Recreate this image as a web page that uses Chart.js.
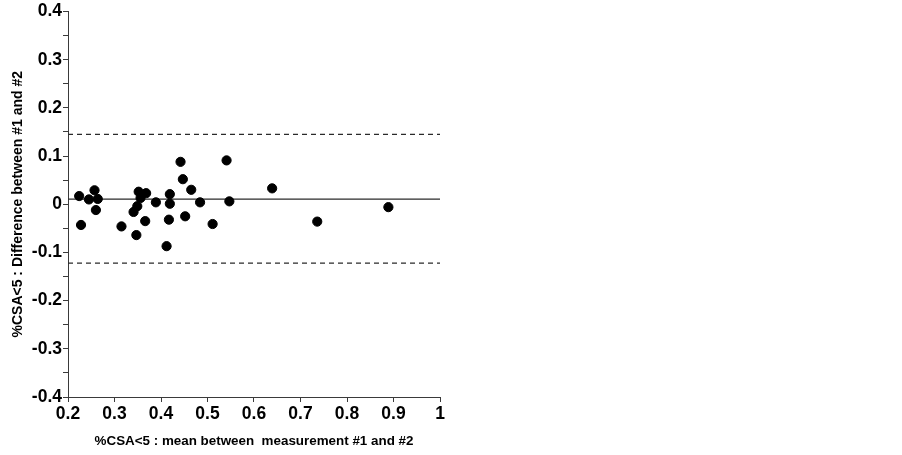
<!DOCTYPE html>
<html>
<head>
<meta charset="utf-8">
<script src="https://cdn.jsdelivr.net/npm/chart.js@4"></script>
<style>
  html, body { margin: 0; padding: 0; background: #fff; }
  #wrap { width: 902px; height: 455px; position: relative; }
</style>
</head>
<body>
<div id="wrap"><canvas id="bland-altman"></canvas></div>
<script>
// mean of measurements #1 and #2 (x) and their difference (y)
const meanValues = [0.224, 0.228, 0.245, 0.257, 0.264, 0.260, 0.315, 0.341, 0.349, 0.352,
                    0.356, 0.368, 0.366, 0.347, 0.389, 0.412, 0.419, 0.419, 0.417, 0.442,
                    0.447, 0.465, 0.452, 0.484, 0.511, 0.541, 0.547, 0.639, 0.736, 0.889];
const diffValues = [0.017, -0.043, 0.010, 0.029, 0.011, -0.012, -0.046, -0.016, -0.004, 0.026,
                    0.013, 0.023, -0.035, -0.064, 0.004, -0.087, 0.021, 0.001, -0.032, 0.088,
                    0.052, 0.030, -0.025, 0.004, -0.041, 0.091, 0.006, 0.033, -0.036, -0.006];

const biasLine = 0.0105;
const upperLimit = 0.145;
const lowerLimit = -0.122;
const xRange = [0.2, 1];
const yRange = [-0.4, 0.4];

const xTitle = '%CSA<5 : mean between  measurement #1 and #2';
const yTitle = '%CSA<5 : Difference between #1 and #2';

const ctx = document.getElementById('bland-altman').getContext('2d');

const points = meanValues.map((x, i) => ({ x: x, y: diffValues[i] }));
const hline = v => xRange.map(x => ({ x: x, y: v }));

const axisColor = '#3a3a3a';
const fam = 'Liberation Sans, Arial, sans-serif';
const tickFont = { family: fam, size: 17.5, weight: 'bold' };

const data = {
  datasets: [
    {
      label: 'measurements',
      data: points,
      backgroundColor: '#000',
      borderColor: '#000',
      pointRadius: 4.6,
      showLine: false
    },
    {
      label: 'mean difference',
      data: hline(biasLine),
      showLine: true,
      borderColor: '#2a2a2a',
      borderWidth: 1.3,
      pointRadius: 0
    },
    {
      label: 'upper limit',
      data: hline(upperLimit),
      showLine: true,
      borderColor: '#2a2a2a',
      borderWidth: 1.2,
      borderDash: [5, 4],
      pointRadius: 0
    },
    {
      label: 'lower limit',
      data: hline(lowerLimit),
      showLine: true,
      borderColor: '#2a2a2a',
      borderWidth: 1.2,
      borderDash: [5, 4],
      pointRadius: 0
    }
  ]
};

const options = {
  responsive: true,
  maintainAspectRatio: false,
  animation: false,
  layout: {
    padding: { left: 8, top: 11, right: 462, bottom: 6 }
  },
  plugins: {
    legend: { display: false },
    tooltip: { enabled: false }
  },
  scales: {
    x: {
      type: 'linear',
      min: xRange[0],
      max: xRange[1],
      border: { display: true, color: axisColor, width: 1 },
      grid: { drawOnChartArea: false, drawTicks: true, tickLength: 5, tickColor: axisColor },
      ticks: {
        stepSize: 0.1,
        color: '#000',
        font: tickFont,
        padding: 2,
        maxRotation: 0,
        callback: v => String(Math.round(v * 10) / 10)
      },
      title: { display: true, text: xTitle, color: '#000', font: { family: fam, size: 13.4, weight: 'bold' }, padding: { top: 6, bottom: 0 } },
      afterFit: s => { s.height = 52; }
    },
    y: {
      type: 'linear',
      min: yRange[0],
      max: yRange[1],
      border: { display: true, color: axisColor, width: 1 },
      grid: { drawOnChartArea: false, drawTicks: true, tickLength: 5, tickColor: axisColor },
      ticks: {
        stepSize: 0.05,
        color: '#000',
        font: tickFont,
        padding: 1,
        autoSkip: false,
        callback: v => Math.round(v * 20) % 2 === 0 ? String(Math.round(v * 10) / 10) : ''
      },
      title: { display: true, text: yTitle, color: '#000', font: { family: fam, size: 14, weight: 'bold' }, padding: { top: 2, bottom: 4 } },
      afterFit: s => { s.width = 60; }
    }
  }
};

const chart = new Chart(ctx, {
  type: 'scatter',
  data: data,
  options: options
});
</script>
</body>
</html>
